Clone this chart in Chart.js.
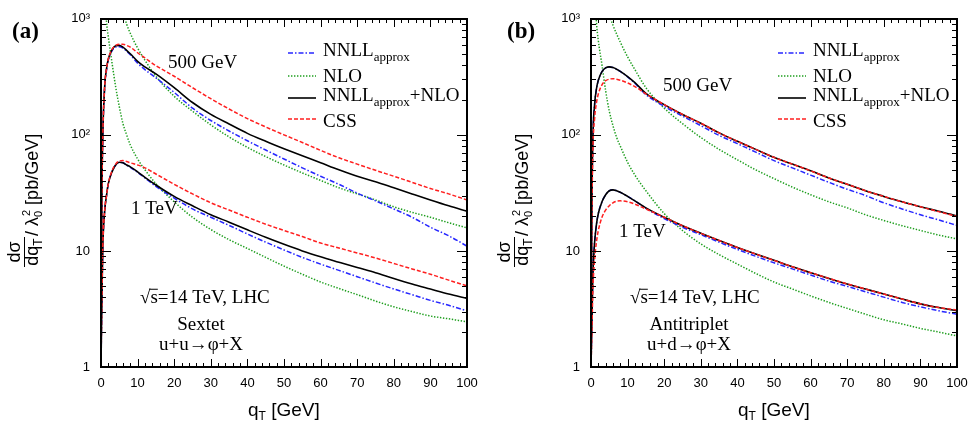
<!DOCTYPE html>
<html><head><meta charset="utf-8">
<script src="https://cdn.jsdelivr.net/npm/chart.js@4.4.1/dist/chart.umd.min.js"></script>
<style>
html,body{margin:0;padding:0;background:#fff;}
#wrap{position:relative;width:977px;height:423px;overflow:hidden}
.pane{position:absolute;top:0;height:423px}
#pa{left:0;width:490px} #pb{left:490px;width:487px}
</style></head><body>
<div id="wrap">
  <div class="pane" id="pa"><canvas id="ca" width="490" height="423"></canvas></div>
  <div class="pane" id="pb"><canvas id="cb" width="487" height="423"></canvas></div>
</div>
<script>
// q_T grid [GeV], shared by all curves
const qT = [0,0.25,0.5,1,1.5,2,3,4,5,6,7,8,10,12,15,20,25,30,35,40,45,50,55,60,65,70,75,80,85,90,95,100];

// (a) sextet, u+u -> phi+X  (pb/GeV)
const a500_nnll = [1,30,100,255,360,440,530,570,575,560,525,490,415,365,310,232,170,133,108,89,74,62,52,44,37.5,31.5,27,23,19.5,16,13.5,11];
const a500_nlo  = [null,null,null,null,null,null,null,null,1500,1150,900,750,560,440,320,215,160,122,96,78,65,55,47,40.5,35,31,27.5,24,21.5,19.5,17.5,15.8];
const a500_comb = [1,30,100,260,370,450,540,585,590,570,535,500,430,385,335,255,190,150,124,103,88,76,66,57.5,50,44,39.5,35,31,27.5,24.5,22];
const a500_css  = [1,30,100,260,370,450,545,590,605,605,590,570,510,460,395,320,255,205,167,138,117,100,86,73.5,63.5,56,49.5,44,39,34.5,31,27.5];
const a1_nnll = [1,4,11,22,30,38,48,55,58,57.5,55,52.5,47.5,42.5,36,28.5,23,19.5,16.6,14,11.9,10.2,8.8,7.7,6.8,6,5.3,4.7,4.2,3.75,3.4,3.05];
const a1_nlo  = [null,null,null,2100,960,700,420,260,175,125,100,82,62,50,38,26.5,19.5,15.3,12.5,10.5,8.8,7.4,6.3,5.4,4.75,4.2,3.7,3.3,3,2.75,2.6,2.45];
const a1_comb = [1,4,11,22,30,38,48,55,58,57.5,55,53,48,43,37,29.5,24.5,20.5,17.7,15.2,13.1,11.4,10,8.9,8,7.2,6.5,5.8,5.2,4.7,4.25,3.9];
const a1_css  = [1,4,11,22,30,38,49,56,59.5,60,59,57.5,55,52,46,37.5,31,26,22.5,19.5,17,15,13.3,11.7,10.6,9.6,8.7,7.8,7,6.3,5.6,5];

// (b) antitriplet, u+d -> phi+X
const b500_nnll = [1,25,90,185,250,295,350,378,385,380,368,352,316,278,222,176,145,120,99,84,71,60,52,45,39,34,30,26,23,20.5,18.5,16.6];
const b500_nlo  = [null,null,null,null,null,null,null,1600,1100,880,740,630,470,365,255,170,125,95,75,61,50,42,35.5,30.5,26.5,23.5,20.5,18.3,16.5,15,13.7,12.7];
const b500_comb = [1,25,90,185,250,295,350,378,385,380,368,352,318,282,228,182,150,126,104,88,75,64,56,49,42.5,37.5,33,29.5,26.5,24,22,20];
const b500_css  = [1,20,70,140,190,225,270,293,302,305,302,296,280,260,226,182,150,126,104,88,75,64,56,49,42.5,37.5,33,29.5,26.5,24,21.8,19.8];
const b1_nnll = [1,2.5,6,12,17,21,26.5,30.5,33,33.6,33,32,29.5,27,23.3,19,16,13.8,11.9,10.3,9,7.9,7,6.2,5.5,4.95,4.45,4,3.6,3.3,3.05,2.85];
const b1_nlo  = [null,null,null,2000,930,650,400,240,160,120,95,80,58,45,33,21,15,11.5,9.3,7.7,6.4,5.4,4.7,4.1,3.6,3.2,2.85,2.55,2.35,2.15,2,1.85];
const b1_comb = [1,2.5,6,12,17,21,26.5,30.5,33,33.6,33,32,29.5,27,23.5,19.5,16.5,14.2,12.3,10.7,9.4,8.3,7.3,6.5,5.8,5.2,4.7,4.25,3.85,3.5,3.25,3.05];
const b1_css  = [1,2,4.5,8.5,12,15,19.5,22.5,24.5,26,26.8,27,26.5,25.3,23,19.5,16.5,14.2,12.3,10.7,9.4,8.3,7.3,6.5,5.8,5.2,4.7,4.25,3.85,3.5,3.25,3.1];

const yTicks = [1,10,100,1000];
const yTickLabels = ['1','10','10\u00b2','10\u00b3'];
const xTicks = [0,10,20,30,40,50,60,70,80,90,100];

const SERIF = '"Liberation Serif","Times New Roman",serif';
const SANS  = '"Liberation Sans",Arial,Helvetica,sans-serif';

const STY = {
  nnll:{ borderColor:'#2727ff', borderDash:[5,2,1.5,2], borderWidth:1.5, order:2 },
  nlo: { borderColor:'#1e9e1e', borderDash:[1.4,1.6], borderWidth:1.5, order:3 },
  comb:{ borderColor:'#000000', borderDash:[], borderWidth:1.6, order:1 },
  css: { borderColor:'#ff1f1f', borderDash:[4,2], borderWidth:1.5, order:0 }
};

function pts(ys){
  return qT.map(function(x,i){ return {x:x, y:ys[i]}; }).filter(function(p){ return p.y!=null; });
}
function ds(kind, ys){
  const s = STY[kind];
  return { data:pts(ys), pointRadius:0, fill:false, cubicInterpolationMode:'monotone',
    borderColor:s.borderColor, borderDash:s.borderDash.slice(), borderWidth:s.borderWidth, order:s.order };
}

// rich text: parts = [{t, size, dy, fam, w8, over}]
function rich(ctx, parts, x, y, align){
  let w = 0;
  parts.forEach(function(p){ ctx.font=(p.w8?p.w8+' ':'')+p.size+'px '+(p.fam||SERIF); p.w=ctx.measureText(p.t).width; w+=p.w; });
  let cx = align==='center' ? x-w/2 : x;
  parts.forEach(function(p){
    ctx.font=(p.w8?p.w8+' ':'')+p.size+'px '+(p.fam||SERIF);
    ctx.fillText(p.t, cx, y+(p.dy||0));
    if(p.over){ ctx.fillRect(cx-1, y-p.size*0.75, p.w+1, 1); }
    cx += p.w;
  });
}

// frame + inward ticks on all four sides (filled rects)
const boxPlugin = { id:'box', afterDraw:function(c){
  const ctx=c.ctx, xs=c.scales.x, ys=c.scales.y;
  const L0=Math.round(xs.getPixelForValue(0)), R0=Math.round(xs.getPixelForValue(100));
  const T0=Math.round(ys.getPixelForValue(1000)), B0=Math.round(ys.getPixelForValue(1));
  ctx.save();
  ctx.fillStyle='#000';
  for(let v=0; v<=100; v+=2){
    const px=Math.round(xs.getPixelForValue(v)), L=(v%10===0)?8:4;
    ctx.fillRect(px, B0-L, 1, L);
    ctx.fillRect(px, T0, 1, L);
  }
  for(let d=1; d<1000; d*=10){
    for(let m=1; m<10; m++){
      const py=Math.round(ys.getPixelForValue(d*m)), L=(m===1)?10:5;
      ctx.fillRect(L0, py, L, 1);
      ctx.fillRect(R0-L, py, L, 1);
    }
  }
  ctx.fillRect(L0-1, T0-1, R0-L0+2, 2);
  ctx.fillRect(L0-1, B0-1, R0-L0+2, 2);
  ctx.fillRect(L0-1, T0-1, 2, B0-T0+2);
  ctx.fillRect(R0-1, T0-1, 2, B0-T0+2);
  ctx.restore();
}};

function notesPlugin(info){
  return { id:'notes', afterDraw:function(c){
    const ctx=c.ctx;
    ctx.save();
    ctx.fillStyle='#000'; ctx.strokeStyle='#000'; ctx.textBaseline='alphabetic';
    // legend
    const rows = [
      {k:'nnll', ly:53, ty:56, parts:[{t:'NNLL',size:19},{t:'approx',size:13,dy:5}]},
      {k:'nlo',  ly:76, ty:82, parts:[{t:'NLO',size:19}]},
      {k:'comb', ly:98, ty:101, parts:[{t:'NNLL',size:19},{t:'approx',size:13,dy:5},{t:'+NLO',size:19}]},
      {k:'css',  ly:119, ty:127, parts:[{t:'CSS',size:19}]}
    ];
    rows.forEach(function(r){
      const s=STY[r.k];
      ctx.save();
      ctx.beginPath(); ctx.strokeStyle=s.borderColor; ctx.lineWidth=s.borderWidth; ctx.setLineDash(s.borderDash);
      ctx.moveTo(288,r.ly); ctx.lineTo(316,r.ly); ctx.stroke();
      ctx.restore();
      rich(ctx, r.parts, 323, r.ty, 'left');
    });
    // panel notes
    rich(ctx,[{t:info.tag,size:23,w8:'bold'}], info.tagX, 38, 'left');
    rich(ctx,[{t:'500 GeV',size:19}], info.hiX, info.hiY, 'left');
    rich(ctx,[{t:'1 TeV',size:19}], info.loX, info.loY, 'left');
    rich(ctx,[{t:'\u221a',size:19},{t:'s',size:19,over:true},{t:'=14 TeV, LHC',size:19}], 140, 303, 'left');
    rich(ctx,[{t:info.rep,size:19}], info.cx, 330, 'center');
    rich(ctx,[{t:info.proc,size:19}], info.cx, 350, 'center');
    // axis titles
    rich(ctx,[{t:'q',size:19,fam:SANS},{t:'T',size:12,dy:4,fam:SANS},{t:' [GeV]',size:19,fam:SANS}], 248, 416, 'left');
    ctx.rotate(-Math.PI/2);
    // rotated frame: (u,v) -> screen (v,-u)
    rich(ctx,[{t:'d\u03c3',size:18,fam:SANS}], -252, 20, 'center');
    ctx.fillRect(-267, 24, 30, 1);
    rich(ctx,[{t:'dq',size:18,fam:SANS},{t:'T',size:12,dy:4,fam:SANS}], -252, 38, 'center');
    ctx.font='18px '+SANS;
    const lw=ctx.measureText('/ \u03bb').width;
    rich(ctx,[{t:'/ \u03bb',size:18,fam:SANS},{t:'0',size:11,dy:4,fam:SANS}], -236, 38, 'left');
    rich(ctx,[{t:'2',size:11,dy:-8,fam:SANS},{t:' [pb/GeV]',size:18,fam:SANS}], -236+lw+1, 38, 'left');
    ctx.restore();
  }};
}

function makeChart(id, sets, info, padRight){
  return new Chart(document.getElementById(id), {
    type:'line',
    data:{ datasets:[
      ds('nnll',sets.hi[0]), ds('nlo',sets.hi[1]), ds('comb',sets.hi[2]), ds('css',sets.hi[3]),
      ds('nnll',sets.lo[0]), ds('nlo',sets.lo[1]), ds('comb',sets.lo[2]), ds('css',sets.lo[3])
    ]},
    options:{
      responsive:false, animation:false, devicePixelRatio:1,
      layout:{ padding:{ left:0, right:padRight, top:17, bottom:0 } },
      plugins:{ legend:{display:false}, tooltip:{enabled:false} },
      scales:{
        x:{ type:'linear', min:0, max:100,
          grid:{display:false, drawTicks:false}, border:{display:false},
          afterBuildTicks:function(s){ s.ticks=xTicks.map(function(v){return {value:v};}); },
          afterFit:function(s){ s.height=56; },
          ticks:{ color:'#000', padding:9, maxRotation:0, autoSkip:false, font:{family:SANS,size:13} } },
        y:{ type:'logarithmic', min:1, max:1000,
          grid:{display:false, drawTicks:false}, border:{display:false},
          afterBuildTicks:function(s){ s.ticks=yTicks.map(function(v){return {value:v};}); },
          afterFit:function(s){ s.width=101; },
          ticks:{ color:'#000', padding:11, autoSkip:false, font:{family:SANS,size:13},
            callback:function(v){ const i=yTicks.indexOf(v); return i<0?'':yTickLabels[i]; } } }
      }
    },
    plugins:[boxPlugin, notesPlugin(info)]
  });
}

makeChart('ca', {
  hi:[a500_nnll,a500_nlo,a500_comb,a500_css],
  lo:[a1_nnll,a1_nlo,a1_comb,a1_css]
}, {tag:'(a)', tagX:12, hiX:168, hiY:68, loX:131, loY:214, rep:'Sextet', proc:'u+u\u2192\u03c6+X', cx:201}, 23);

makeChart('cb', {
  hi:[b500_nnll,b500_nlo,b500_comb,b500_css],
  lo:[b1_nnll,b1_nlo,b1_comb,b1_css]
}, {tag:'(b)', tagX:17, hiX:173, hiY:91, loX:129, loY:237, rep:'Antitriplet', proc:'u+d\u2192\u03c6+X', cx:199}, 20);
</script>
</body></html>
